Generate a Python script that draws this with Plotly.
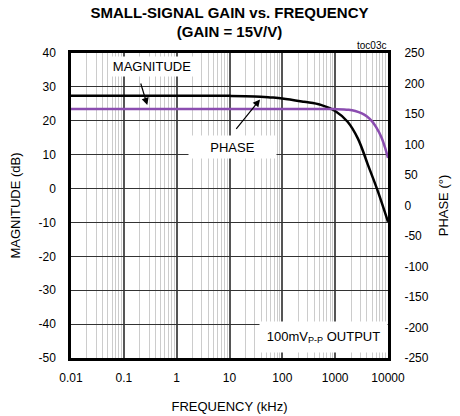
import plotly.graph_objects as go

# ---- data ----
mag_freq_khz = [0.01, 1, 10, 30, 59, 100, 257, 535, 1000, 1720, 2680, 4170, 6460, 10000]
mag_db = [27.4, 27.4, 27.35, 27.2, 26.9, 26.6, 25.6, 24.7, 22.9, 19.7, 14.8, 7.0, -0.9, -9.8]

phase_freq_khz = [0.01, 100, 1000, 1800, 2400, 3200, 4000, 5000, 6000, 7500, 9000, 10000]
phase_deg = [158, 158, 158, 157, 155, 151, 146, 138, 128, 112, 92, 78]

x_tick_vals = [0.01, 0.1, 1, 10, 100, 1000, 10000]
x_tick_text = ["0.01", "0.1", "1", "10", "100", "1000", "10000"]
y_tick_vals = [40, 30, 20, 10, 0, -10, -20, -30, -40, -50]
y_tick_text = ["40", "30", "20", "10", "0", "-10", "-20", "-30", "-40", "-50"]
y2_tick_vals = [250, 200, 150, 100, 50, 0, -50, -100, -150, -200, -250]
y2_tick_text = ["250", "200", "150", "100", "50", "0", "-50", "-100", "-150", "-200", "-250"]

FONT = "Liberation Sans, Arial, sans-serif"

fig = go.Figure()
fig.add_trace(go.Scatter(x=mag_freq_khz, y=mag_db, mode="lines",
                         line=dict(color="black", width=2.5, shape="spline"),
                         showlegend=False, yaxis="y"))
fig.add_trace(go.Scatter(x=phase_freq_khz, y=phase_deg, mode="lines",
                         line=dict(color="#8B4DB0", width=2.5, shape="spline"),
                         showlegend=False, yaxis="y2"))

# the page adds an 8px body margin, so the figure is 8px smaller on each axis
fig.update_layout(
    width=452, height=408,
    margin=dict(l=63, r=72, t=45, b=58, autoexpand=False),
    paper_bgcolor="white", plot_bgcolor="white",
    font=dict(family=FONT, size=12, color="black"),
    title=dict(text="<b>SMALL-SIGNAL GAIN vs. FREQUENCY<br>(GAIN = 15V/V)</b>",
               x=0.49, xanchor="center", yref="container", y=0.9755, yanchor="top",
               automargin=False,
               font=dict(family=FONT, size=15, color="black")),
    xaxis=dict(type="log", range=[-2, 4], tickvals=x_tick_vals, ticktext=x_tick_text,
               automargin=False,
               showgrid=True, gridcolor="#555555", gridwidth=1.5,
               minor=dict(dtick="D1", showgrid=True, gridcolor="#cccccc", gridwidth=1),
               showline=True, linecolor="black", linewidth=2.5, mirror=True,
               ticks="outside", ticklen=7, tickcolor="rgba(0,0,0,0)",
               tickfont=dict(size=12),
               title=dict(text="FREQUENCY (kHz)", standoff=18, font=dict(size=13)),
               zeroline=False),
    yaxis=dict(range=[-50, 40], tickvals=y_tick_vals, ticktext=y_tick_text,
               automargin=False,
               showgrid=True, gridcolor="#333333", gridwidth=1.2,
               showline=True, linecolor="black", linewidth=2.5, mirror=True,
               ticks="outside", ticklen=10, tickcolor="rgba(0,0,0,0)",
               tickfont=dict(size=12),
               title=dict(text="MAGNITUDE (dB)", standoff=19, font=dict(size=13)),
               zeroline=False),
    yaxis2=dict(range=[-250, 250], tickvals=y2_tick_vals, ticktext=y2_tick_text,
                overlaying="y", side="right", automargin=False,
                showgrid=False, zeroline=False,
                ticks="outside", ticklen=13, tickcolor="rgba(0,0,0,0)",
                tickfont=dict(size=12),
                title=dict(text="PHASE (°)", standoff=11, font=dict(size=13))),
)

box_font = dict(family=FONT, size=13, color="black")
fig.add_annotation(x=-0.467, y=36.0, xref="x", yref="y", text="MAGNITUDE",
                   showarrow=False, bgcolor="white", width=80, height=17, font=box_font)
fig.add_annotation(x=1.057, y=12.3, xref="x", yref="y", text="PHASE",
                   showarrow=False, bgcolor="white", width=85, height=20, font=box_font)
fig.add_annotation(x=2.779, y=-43.9, xref="x", yref="y", text="100mV<sub>P-P</sub> OUTPUT",
                   showarrow=False, bgcolor="white", width=125, height=28, font=box_font)

# arrows
fig.add_annotation(x=-0.556, y=24.65, xref="x", yref="y", text="", showarrow=True,
                   ax=-7, ay=-23, arrowhead=2, arrowsize=1.2, arrowwidth=1.2,
                   arrowcolor="black", standoff=0, startstandoff=0)
fig.add_annotation(x=1.578, y=26.3, xref="x", yref="y", text="", showarrow=True,
                   ax=-25, ay=31, arrowhead=2, arrowsize=1.2, arrowwidth=1.2,
                   arrowcolor="black", standoff=0, startstandoff=0)

fig.add_annotation(x=1, y=1, xref="paper", yref="paper", xanchor="right", yanchor="bottom",
                   text="toc03c", showarrow=False, yshift=0,
                   font=dict(family=FONT, size=10, color="black"))

fig.write_html("out.html")
